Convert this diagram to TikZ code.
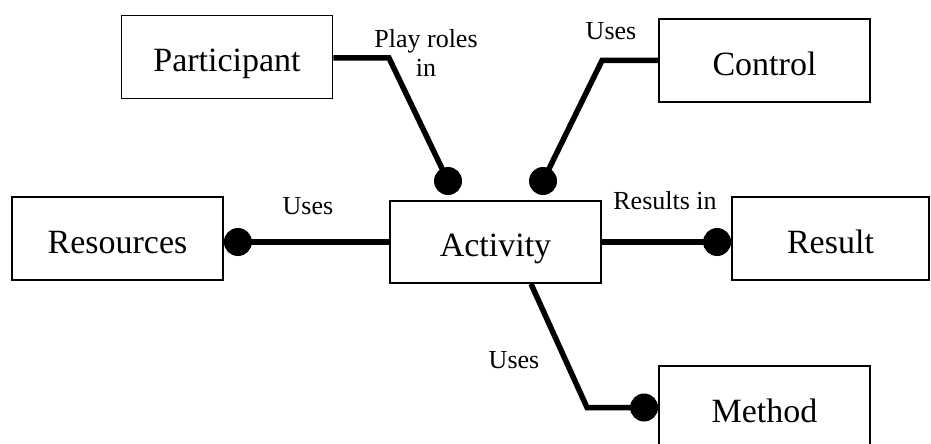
\documentclass[tikz,border=0pt]{standalone}
\usepackage{fontspec}
\setmainfont{Liberation Serif}
\begin{document}
\begin{tikzpicture}[x=1pt,y=-1pt,
  entity/.style={draw, line width=1.8pt, minimum width=211pt, minimum height=83pt,
    inner sep=0pt, font=\fontsize{34}{40}\selectfont, text height=29pt, text depth=0pt},
  link/.style={line width=5.5pt},
  relname/.style={font=\fontsize{26}{29}\selectfont, inner sep=0pt},
  enddot/.style={fill=black}]
\useasboundingbox (0,0) rectangle (931,444);
\clip (0,0) rectangle (931,444);

% entities
\node[entity] (part) at (227,57) {Participant};
\node[entity] (ctrl) at (764.5,60.5) {Control};
\node[entity] (res) at (117.5,238.5) {Resources};
\node[entity, minimum height=82pt] (act) at (495.5,242) {Activity};
\node[entity, minimum width=197pt] (result) at (830.5,238.5) {Result};
\node[entity] (meth) at (764.5,407.5) {Method};

% connector bends and end dots
\coordinate (pbend) at (389,58);
\coordinate (pdot) at (448,181);
\coordinate (cbend) at (602,60.5);
\coordinate (cdot) at (543,181);
\path (res.east |- act.west) ++(14,0) coordinate (rdot);
\path (result.west |- act.east) ++(-14,0) coordinate (resdot);
\coordinate (mstart) at ([xshift=35.5pt]act.south);
\coordinate (mbend) at (587,407.5);
\coordinate (mdot) at ([xshift=-14pt]meth.west);

% connectors
\draw[link] (part.east |- pbend) -- (pbend) -- (pdot);
\draw[link] (ctrl.west) -- (cbend) -- (cdot);
\draw[link] (act.west) -- (rdot);
\draw[link] (act.east) -- (resdot);
\draw[link] (mstart) -- (mbend) -- (mdot);

\foreach \d in {pdot,cdot,rdot,resdot,mdot}
  \fill[enddot] (\d) circle[radius=14pt];

% relationship names
\node[relname, align=center] (lplay) at (426,52.6) {Play roles\\in};
\node[relname, anchor=base] (luse1) at (611,39.5) {Uses};
\node[relname, anchor=base] (luse2) at (308,214) {Uses};
\node[relname, anchor=base] (lres) at (665,209) {Results in};
\node[relname, anchor=base] (luse3) at (514,368) {Uses};
\end{tikzpicture}
\end{document}
